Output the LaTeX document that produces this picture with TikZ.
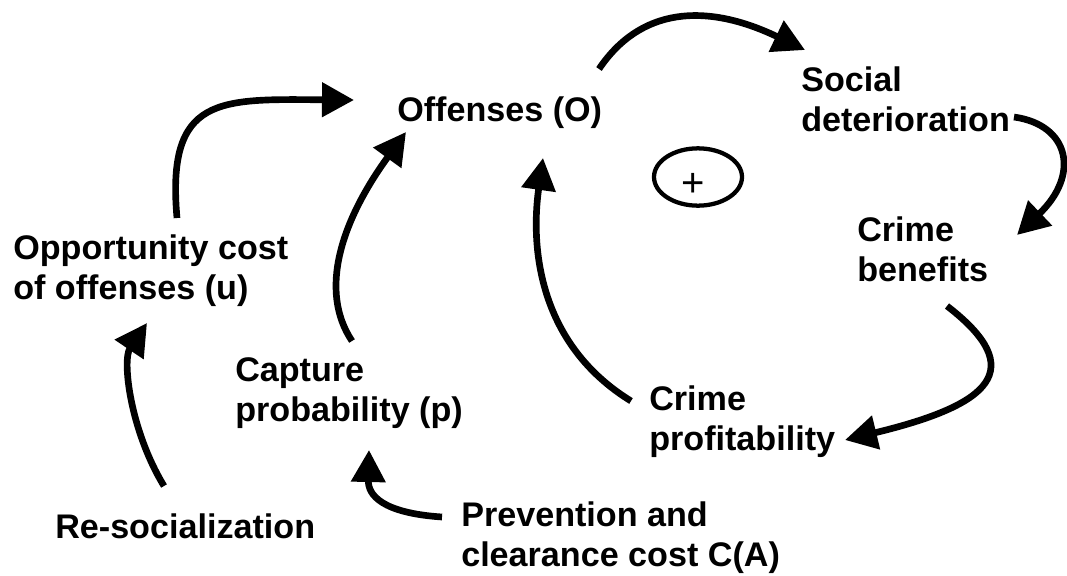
\documentclass[tikz,border=0pt]{standalone}
\usepackage{fontspec}
\setmainfont{Liberation Sans}
\usetikzlibrary{arrows.meta,shapes.geometric}
\begin{document}
\begin{tikzpicture}[x=0.75pt,y=-0.75pt,
  lbl/.style={anchor=base west, inner sep=0pt, align=left,
    font=\fontsize{25.6}{29.6}\selectfont\bfseries},
  conn/.style={line width=5pt, -{Triangle[length=24pt,width=25pt]}},
  loopsign/.style={draw, ellipse, line width=3.2pt, minimum width=66pt, minimum height=43pt, inner sep=0pt}]
\useasboundingbox (0,0) rectangle (1067,575);
% nodes (base = baseline of last line)
\node[lbl] (off) at (397,121) {Offenses (O)};
\node[lbl] (soc) at (801,131) {Social\\deterioration};
\node[lbl] (ben) at (857,281) {Crime\\benefits};
\node[lbl] (opp) at (13,299) {Opportunity cost\\of offenses (u)};
\node[lbl] (cap) at (235,421) {Capture\\probability (p)};
\node[lbl] (prof) at (649,450) {Crime\\profitability};
\node[lbl] (prev) at (461,566) {Prevention and\\clearance cost C(A)};
\node[lbl] (res) at (55,538) {Re-socialization};
\node[loopsign] (sign) at (698,177) {};
\node (plus) at (693,185) {\fontsize{30}{30}\selectfont +};
% connector endpoints
\coordinate (a1s) at (177,218); \coordinate (a1e) at (354,100);
\coordinate (a2s) at (352,341); \coordinate (a2e) at (406,132);
\coordinate (a3s) at (631,401); \coordinate (a3e) at (543,158);
\coordinate (a4s) at (599,69);  \coordinate (a4e) at (805,50);
\coordinate (a5s) at (1014,117); \coordinate (a5e) at (1017,235);
\coordinate (a6s) at (164,486); \coordinate (a6e) at (147,323);
\coordinate (a7s) at (442,517); \coordinate (a7e) at (369,450);
\coordinate (a8s) at (947,306); \coordinate (a8e) at (845,440);
% connectors
\draw[conn] (a1s) .. controls (166,95) and (220,99) .. (a1e);
\draw[conn] (a2s) .. controls (318,290) and (342,220) .. (a2e);
\draw[conn] (a3s) .. controls (540,345) and (530,250) .. (a3e);
\draw[conn] (a4s) .. controls (640,8) and (705,2) .. (a4e);
\draw[conn] (a5s) .. controls (1070,125) and (1080,175) .. (a5e);
\draw[conn] (a6s) .. controls (130,430) and (122,360) .. (a6e);
\draw[conn] (a7s) .. controls (382,513) and (368,495) .. (a7e);
\draw[conn] (a8s) .. controls (1030,370) and (990,405) .. (a8e);
\end{tikzpicture}
\end{document}
